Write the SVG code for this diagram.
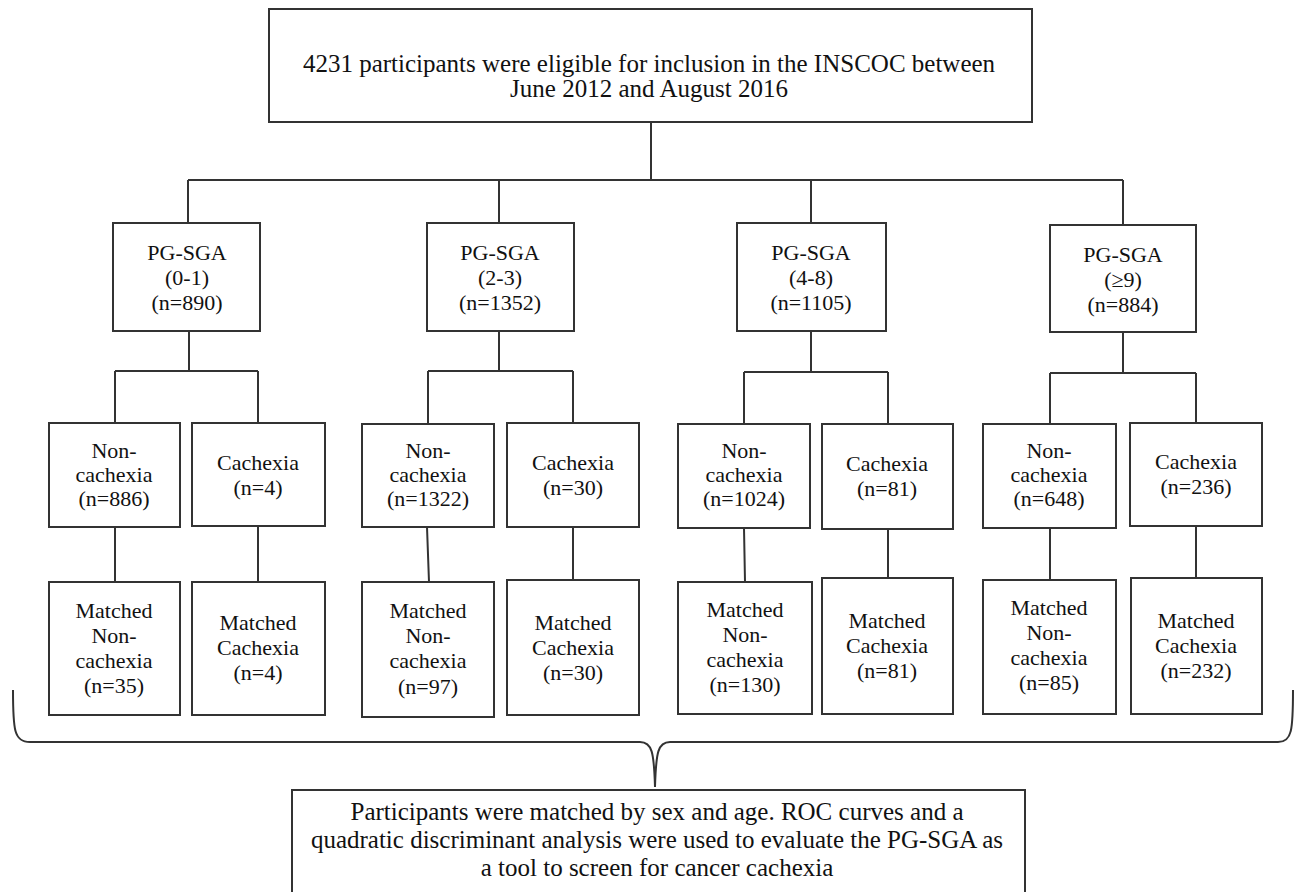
<svg xmlns="http://www.w3.org/2000/svg" width="1296" height="892" viewBox="0 0 1296 892">
<style>
.box{fill:#fff;stroke:#333;stroke-width:2}
.ln{fill:none;stroke:#333;stroke-width:2}
text{font-family:"Liberation Serif","Times New Roman",serif;fill:#111;text-anchor:middle}
.big{font-size:25px}
.sm{font-size:22px}
</style>
<rect width="1296" height="892" fill="#fff"/>
<g id="connectors">
<path class="ln" d="M651,122V180M188,180H1123M188,180V223M499,180V223M811,180V223M1123,180V225"/>
<path class="ln" d="M189,331V371M115,371H258M115,371V423M258,371V423"/>
<path class="ln" d="M499,331V371M428,371H573M428,371V424M573,371V423"/>
<path class="ln" d="M811,331V372M744,372H888M744,372V424M888,372V424"/>
<path class="ln" d="M1123,332V373M1050,373H1196M1050,373V424M1196,373V423"/>
<path class="ln" d="M115,527V582M258,526V582M427,527L429,582M573,527V580M744,528L745,582M888,529V578M1050,528V580M1196,526V578"/>
<path class="ln" d="M13,690C13,730 14,742 30,742H640C652,742 654,752 655,787C656,752 658,742 670,742H1278C1292,742 1293,730 1293,690"/>
</g>
<g id="n_top"><rect class="box" x="269" y="9" width="763" height="113"/>
<text class="big" x="649" y="72">4231 participants were eligible for inclusion in the INSCOC between</text>
<text class="big" x="649" y="97">June 2012 and August 2016</text></g>
<g id="n_pg1"><rect class="box" x="113" y="223" width="147" height="108"/>
<text class="sm" x="187" y="260">PG-SGA</text><text class="sm" x="187" y="285">(0-1)</text><text class="sm" x="187" y="310">(n=890)</text></g>
<g id="n_pg2"><rect class="box" x="427" y="223" width="147" height="108"/>
<text class="sm" x="500" y="260">PG-SGA</text><text class="sm" x="500" y="285">(2-3)</text><text class="sm" x="500" y="310">(n=1352)</text></g>
<g id="n_pg3"><rect class="box" x="737" y="223" width="149" height="108"/>
<text class="sm" x="811" y="260">PG-SGA</text><text class="sm" x="811" y="285">(4-8)</text><text class="sm" x="811" y="310">(n=1105)</text></g>
<g id="n_pg4"><rect class="box" x="1050" y="225" width="146" height="107"/>
<text class="sm" x="1123" y="262">PG-SGA</text><text class="sm" x="1123" y="287">(≥9)</text><text class="sm" x="1123" y="312">(n=884)</text></g>
<g id="n_nc1"><rect class="box" x="49" y="423" width="131" height="104"/>
<text class="sm" x="114" y="458">Non-</text><text class="sm" x="114" y="482">cachexia</text><text class="sm" x="114" y="506">(n=886)</text></g>
<g id="n_c1"><rect class="box" x="192" y="423" width="133" height="103"/>
<text class="sm" x="258" y="470">Cachexia</text><text class="sm" x="258" y="495">(n=4)</text></g>
<g id="n_nc2"><rect class="box" x="362" y="424" width="132" height="103"/>
<text class="sm" x="428" y="458">Non-</text><text class="sm" x="428" y="482">cachexia</text><text class="sm" x="428" y="506">(n=1322)</text></g>
<g id="n_c2"><rect class="box" x="507" y="423" width="132" height="104"/>
<text class="sm" x="573" y="470">Cachexia</text><text class="sm" x="573" y="495">(n=30)</text></g>
<g id="n_nc3"><rect class="box" x="678" y="424" width="132" height="104"/>
<text class="sm" x="744" y="458">Non-</text><text class="sm" x="744" y="482">cachexia</text><text class="sm" x="744" y="506">(n=1024)</text></g>
<g id="n_c3"><rect class="box" x="822" y="424" width="131" height="105"/>
<text class="sm" x="887" y="471">Cachexia</text><text class="sm" x="887" y="496">(n=81)</text></g>
<g id="n_nc4"><rect class="box" x="983" y="424" width="133" height="104"/>
<text class="sm" x="1049" y="458">Non-</text><text class="sm" x="1049" y="482">cachexia</text><text class="sm" x="1049" y="506">(n=648)</text></g>
<g id="n_c4"><rect class="box" x="1130" y="423" width="132" height="103"/>
<text class="sm" x="1196" y="469">Cachexia</text><text class="sm" x="1196" y="494">(n=236)</text></g>
<g id="n_mnc1"><rect class="box" x="49" y="582" width="131" height="133"/>
<text class="sm" x="114" y="618">Matched</text><text class="sm" x="114" y="643">Non-</text><text class="sm" x="114" y="668">cachexia</text><text class="sm" x="114" y="693">(n=35)</text></g>
<g id="n_mc1"><rect class="box" x="192" y="582" width="133" height="133"/>
<text class="sm" x="258" y="630">Matched</text><text class="sm" x="258" y="655">Cachexia</text><text class="sm" x="258" y="680">(n=4)</text></g>
<g id="n_mnc2"><rect class="box" x="362" y="582" width="132" height="135"/>
<text class="sm" x="428" y="618">Matched</text><text class="sm" x="428" y="643">Non-</text><text class="sm" x="428" y="668">cachexia</text><text class="sm" x="428" y="694">(n=97)</text></g>
<g id="n_mc2"><rect class="box" x="507" y="580" width="132" height="135"/>
<text class="sm" x="573" y="630">Matched</text><text class="sm" x="573" y="655">Cachexia</text><text class="sm" x="573" y="680">(n=30)</text></g>
<g id="n_mnc3"><rect class="box" x="678" y="582" width="134" height="132"/>
<text class="sm" x="745" y="617">Matched</text><text class="sm" x="745" y="642">Non-</text><text class="sm" x="745" y="667">cachexia</text><text class="sm" x="745" y="692">(n=130)</text></g>
<g id="n_mc3"><rect class="box" x="822" y="578" width="131" height="136"/>
<text class="sm" x="887" y="628">Matched</text><text class="sm" x="887" y="653">Cachexia</text><text class="sm" x="887" y="678">(n=81)</text></g>
<g id="n_mnc4"><rect class="box" x="983" y="580" width="133" height="134"/>
<text class="sm" x="1049" y="615">Matched</text><text class="sm" x="1049" y="640">Non-</text><text class="sm" x="1049" y="665">cachexia</text><text class="sm" x="1049" y="690">(n=85)</text></g>
<g id="n_mc4"><rect class="box" x="1131" y="578" width="131" height="136"/>
<text class="sm" x="1196" y="628">Matched</text><text class="sm" x="1196" y="653">Cachexia</text><text class="sm" x="1196" y="678">(n=232)</text></g>
<g id="n_bottom"><rect class="box" x="292" y="790" width="733" height="112"/>
<text class="big" x="657" y="820">Participants were matched by sex and age. ROC curves and a</text>
<text class="big" x="657" y="848">quadratic discriminant analysis were used to evaluate the PG-SGA as</text>
<text class="big" x="657" y="876">a tool to screen for cancer cachexia</text></g>
</svg>
